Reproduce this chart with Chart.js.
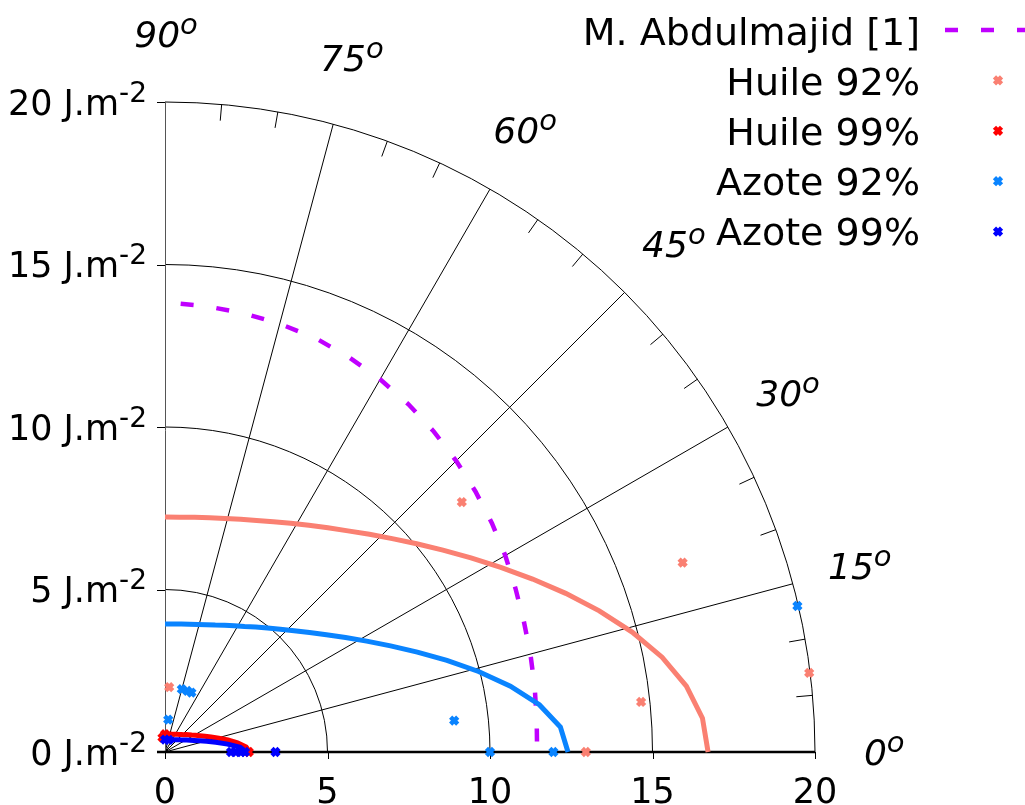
<!DOCTYPE html>
<html>
<head>
<meta charset="utf-8">
<script src="https://cdn.jsdelivr.net/npm/chart.js@4.4.0/dist/chart.umd.min.js"></script>
<style>
  html, body { margin: 0; padding: 0; background: #fff; }
  canvas { display: block; }
</style>
</head>
<body>
<canvas id="polarChart" width="1025" height="805"></canvas>
<script>
// angles in degrees, energies in J.m-2 (radius of the polar plot)
var fitAngles = [0, 3.6, 7.2, 10.8, 14.4, 18, 21.6, 25.2, 28.8, 32.4, 36, 39.6, 43.2,
  46.8, 50.4, 54, 57.6, 61.2, 64.8, 68.4, 72, 75.6, 79.2, 82.8, 86.4, 90];

var abdulmajidAngles = [88, 85, 80, 75, 70, 65, 60, 55, 50, 45, 40, 35, 30, 25, 20, 15, 10, 5, 0];
var abdulmajidEnergy = [13.8, 13.78, 13.72, 13.64, 13.55, 13.4, 13.24, 13.06, 12.87, 12.67,
  12.47, 12.28, 12.09, 11.9, 11.75, 11.64, 11.55, 11.48, 11.45];

var huile92Fit = [16.71, 16.57, 16.17, 15.57, 14.84, 14.05, 13.26, 12.5, 11.79, 11.15, 10.57,
  10.05, 9.59, 9.19, 8.83, 8.53, 8.26, 8.03, 7.83, 7.66, 7.53, 7.42, 7.34, 7.28, 7.24, 7.23];
var huile99Fit = [2.6, 2.5, 2.25, 1.97, 1.71, 1.49, 1.32, 1.18, 1.07, 0.97, 0.9, 0.84, 0.78,
  0.74, 0.7, 0.67, 0.65, 0.62, 0.6, 0.59, 0.58, 0.57, 0.56, 0.55, 0.55, 0.55];
var azote92Fit = [12.4, 12.19, 11.61, 10.82, 9.96, 9.12, 8.35, 7.67, 7.08, 6.58, 6.14, 5.77,
  5.45, 5.18, 4.95, 4.75, 4.57, 4.43, 4.31, 4.2, 4.12, 4.05, 4.0, 3.97, 3.95, 3.94];
var azote99Fit = [2.5, 2.32, 1.94, 1.59, 1.32, 1.11, 0.96, 0.85, 0.76, 0.69, 0.63, 0.59, 0.55,
  0.52, 0.49, 0.47, 0.45, 0.43, 0.42, 0.41, 0.4, 0.39, 0.39, 0.38, 0.38, 0.38];

var huile92Angles = [0, 6, 7, 20.1, 40.1, 86.3];
var huile92Energy = [12.95, 14.73, 19.97, 16.96, 11.94, 2.0];
var huile99Angles = [0, 90, 100];
var huile99Energy = [2.58, 0.55, 0.45];
var azote92Angles = [0, 0, 6.2, 13, 66, 70, 75, 84.3];
var azote92Energy = [10.0, 11.95, 8.95, 19.97, 2.0, 2.0, 2.0, 1.0];
var azote99Angles = [0, 0, 0, 0, 0, 72, 90];
var azote99Energy = [2.03, 2.18, 2.34, 2.46, 3.4, 0.39, 0.38];

var radialTicks = [0, 5, 10, 15, 20];
var angleTicks = [0, 15, 30, 45, 60, 75, 90];
var minorAngleTicks = [5, 10, 20, 25, 35, 40, 50, 55, 65, 70, 80, 85];
var unitText = " J.m";
var unitExp = "-2";

var cSalmon = "#fa8072";
var cRed = "#ff0000";
var cLightBlue = "#0a84ff";
var cBlue = "#0000ff";
var cViolet = "#c000ff";

function toXY(angles, energies) {
  return angles.map(function (a, i) {
    var t = a * Math.PI / 180;
    return { x: energies[i] * Math.cos(t), y: energies[i] * Math.sin(t) };
  });
}

function fitSet(values, color) {
  return { label: "", data: toXY(fitAngles, values), showLine: true, pointRadius: 0,
    borderColor: color, borderWidth: 5, clip: false };
}

function pointSet(label, angles, values, color) {
  return { label: label, data: toXY(angles, values), showLine: false, pointStyle: "crossRot",
    pointRadius: 5, pointBorderWidth: 4.5, pointBorderColor: color, pointBackgroundColor: color,
    borderColor: color, clip: false };
}

var datasets = [
  { label: "M. Abdulmajid [1]", data: toXY(abdulmajidAngles, abdulmajidEnergy), showLine: true,
    pointRadius: 0, borderColor: cViolet, borderWidth: 4.5, borderDash: [13, 23],
    borderCapStyle: "butt", clip: false },
  fitSet(huile92Fit, cSalmon),
  fitSet(huile99Fit, cRed),
  fitSet(azote92Fit, cLightBlue),
  fitSet(azote99Fit, cBlue),
  pointSet("Huile 92%", huile92Angles, huile92Energy, cSalmon),
  pointSet("Huile 99%", huile99Angles, huile99Energy, cRed),
  pointSet("Azote 92%", azote92Angles, azote92Energy, cLightBlue),
  pointSet("Azote 99%", azote99Angles, azote99Energy, cBlue)
];
// gnuplot draws in plot order: later datasets on top
datasets.forEach(function (d, i) { d.order = -i; });

var FONT = '"DejaVu Sans", Verdana, sans-serif';

function drawSup(ctx, main, sup, x, y, size, italic, align) {
  var st = italic ? "italic " : "";
  var f1 = st + size + "px " + FONT;
  var f2 = st + Math.round(size * 0.8) + "px " + FONT;
  ctx.font = f1;
  var w1 = ctx.measureText(main).width;
  ctx.font = f2;
  var w2 = ctx.measureText(sup).width;
  var x0 = align === "right" ? x - w1 - w2 : (align === "center" ? x - (w1 + w2) / 2 : x);
  ctx.textAlign = "left";
  ctx.textBaseline = "alphabetic";
  ctx.font = f1;
  ctx.fillText(main, x0, y);
  ctx.font = f2;
  ctx.fillText(sup, x0 + w1, y - size * 0.36);
}

var polarGrid = {
  id: "polarGrid",
  beforeDatasetsDraw: function (chart) {
    var ctx = chart.ctx, xs = chart.scales.x, ys = chart.scales.y;
    var ox = xs.getPixelForValue(0), oy = ys.getPixelForValue(0);
    var u = xs.getPixelForValue(1) - ox;
    var rMax = radialTicks[radialTicks.length - 1];
    ctx.save();
    ctx.strokeStyle = "#000";
    ctx.lineWidth = 1;
    // circles
    radialTicks.forEach(function (r) {
      if (r === 0) return;
      ctx.beginPath();
      ctx.arc(ox, oy, r * u, 0, -Math.PI / 2, true);
      ctx.stroke();
    });
    // spokes
    angleTicks.forEach(function (a) {
      if (a === 0 || a === 90) return;
      var t = a * Math.PI / 180;
      ctx.beginPath();
      ctx.moveTo(ox, oy);
      ctx.lineTo(ox + rMax * u * Math.cos(t), oy - rMax * u * Math.sin(t));
      ctx.stroke();
    });
    // minor ticks on the outer circle
    minorAngleTicks.forEach(function (a) {
      var t = a * Math.PI / 180;
      ctx.beginPath();
      ctx.moveTo(ox + rMax * u * Math.cos(t), oy - rMax * u * Math.sin(t));
      ctx.lineTo(ox + (rMax - 0.5) * u * Math.cos(t), oy - (rMax - 0.5) * u * Math.sin(t));
      ctx.stroke();
    });
    // y axis
    ctx.strokeStyle = "#555";
    ctx.beginPath();
    ctx.moveTo(ox + 0.5, ys.getPixelForValue(rMax));
    ctx.lineTo(ox + 0.5, oy + 7);
    ctx.stroke();
    ctx.strokeStyle = "#000";
    radialTicks.forEach(function (v) {
      var py = Math.round(ys.getPixelForValue(v)) + 0.5;
      ctx.beginPath();
      ctx.moveTo(ox - 8, py);
      ctx.lineTo(ox, py);
      ctx.stroke();
      var px = Math.round(xs.getPixelForValue(v)) + 0.5;
      ctx.beginPath();
      ctx.moveTo(px, oy);
      ctx.lineTo(px, oy + 7);
      ctx.stroke();
    });
    // x axis (polar axis)
    ctx.lineWidth = 2.5;
    ctx.beginPath();
    ctx.moveTo(ox - 8, oy);
    ctx.lineTo(xs.getPixelForValue(rMax), oy);
    ctx.stroke();
    ctx.restore();
  },
  afterDraw: function (chart) {
    var ctx = chart.ctx, xs = chart.scales.x, ys = chart.scales.y;
    var ox = xs.getPixelForValue(0), oy = ys.getPixelForValue(0);
    var u = xs.getPixelForValue(1) - ox;
    ctx.save();
    ctx.fillStyle = "#000";
    // tick labels
    radialTicks.forEach(function (v) {
      drawSup(ctx, v + unitText, unitExp, ox - 18, ys.getPixelForValue(v) + 12.5, 35, false, "right");
      ctx.font = "35px " + FONT;
      ctx.textAlign = "center";
      ctx.textBaseline = "alphabetic";
      ctx.fillText(String(v), xs.getPixelForValue(v), oy + 51);
    });
    // angle labels
    angleTicks.forEach(function (a) {
      var t = a * Math.PI / 180, rl = 22.1 * u;
      drawSup(ctx, String(a), "o", ox + rl * Math.cos(t) + 1, oy - rl * Math.sin(t) + 13, 36, true, "center");
    });
    // legend
    var row = 0;
    chart.data.datasets.forEach(function (d) {
      if (!d.label) return;
      var base = 45 + row * 50;
      var cy = base - 15 + (row > 0 ? 0.4 * row : 0);
      ctx.fillStyle = "#000";
      ctx.font = "38px " + FONT;
      ctx.textAlign = "right";
      ctx.textBaseline = "alphabetic";
      ctx.fillText(d.label, 920, base);
      if (d.showLine) {
        ctx.strokeStyle = d.borderColor;
        ctx.lineWidth = d.borderWidth;
        ctx.setLineDash(d.borderDash || []);
        ctx.beginPath();
        ctx.moveTo(945, cy);
        ctx.lineTo(1060, cy);
        ctx.stroke();
        ctx.setLineDash([]);
      } else {
        ctx.strokeStyle = d.pointBorderColor;
        ctx.fillStyle = d.pointBorderColor;
        ctx.lineWidth = d.pointBorderWidth;
        Chart.helpers.drawPoint(ctx, { pointStyle: "crossRot", radius: d.pointRadius,
          borderWidth: d.pointBorderWidth, rotation: 0 }, 998, cy);
      }
      row++;
    });
    ctx.restore();
  }
};

var config = {
  type: "scatter",
  data: { datasets: datasets },
  options: {
    responsive: false,
    animation: false,
    devicePixelRatio: 1,
    layout: { padding: { left: 165, right: 210, top: 102, bottom: 53 } },
    scales: {
      x: { type: "linear", min: 0, max: 20, display: false },
      y: { type: "linear", min: 0, max: 20, display: false }
    },
    plugins: { legend: { display: false }, tooltip: { enabled: false } }
  },
  plugins: [polarGrid]
};

var myChart = new Chart(document.getElementById("polarChart"), config);
</script>
</body>
</html>
